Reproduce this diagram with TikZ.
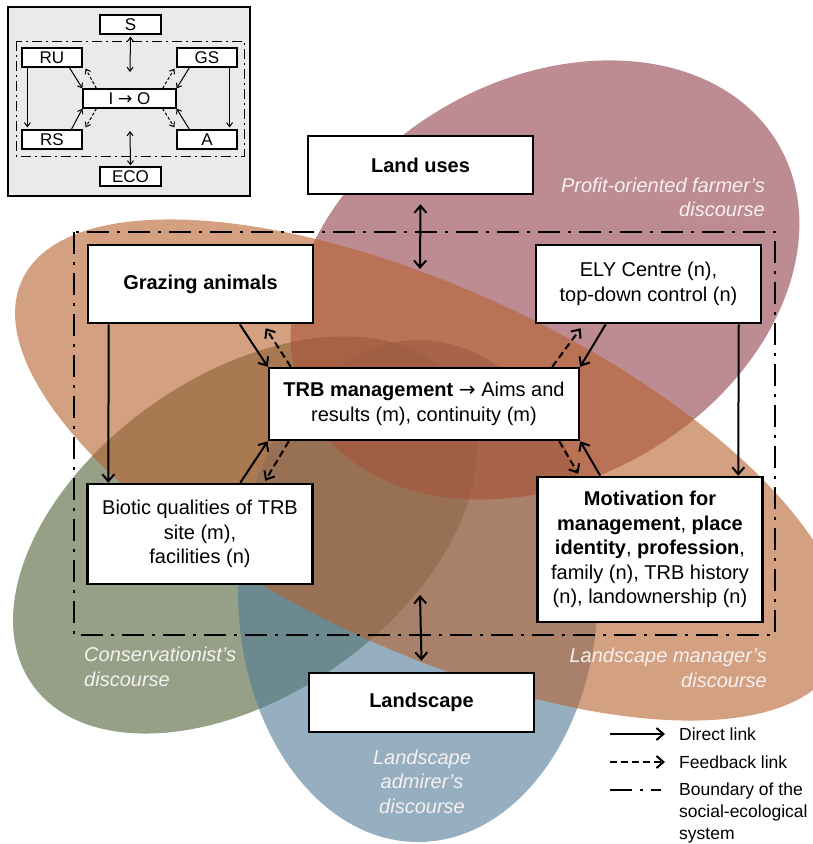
\documentclass[tikz,border=0pt]{standalone}
\usepackage{fontspec}
\setmainfont{Liberation Sans}
\newfontfamily\arrowfont{DejaVu Sans}
\usepackage{tikz}
\usetikzlibrary{calc}
\usetikzlibrary{arrows.meta}
\definecolor{profit}{RGB}{143,63,73}
\definecolor{manager}{RGB}{183,97,47}
\definecolor{conserv}{RGB}{80,97,55}
\definecolor{admirer}{RGB}{80,122,150}
\definecolor{insetgray}{RGB}{234,234,234}
\definecolor{labelwhite}{RGB}{246,240,240}
\newcommand{\boxfont}{\fontsize{20}{24.5}\selectfont}
\newcommand{\legendfont}{\fontsize{17.5}{22}\selectfont}
\newcommand{\insetfont}{\fontsize{17}{20}\selectfont}
\newcommand{\thento}{{\arrowfont\char"2192}}
\newcommand{\blob}[5]{ \fill[#1, fill opacity=0.6, rotate around={#2:(#3)}] (#3) ellipse [x radius=#4pt, y radius=#5pt];}

\begin{document}
\begin{tikzpicture}[x=1pt, y=-1pt,
    box/.style={draw, line width=2.5pt, fill=white, align=center, inner sep=0pt, font=\boxfont, minimum width=225pt},
    direct/.style={line width=2pt, -{Straight Barb[length=7pt,width=12pt]}},
    feedback/.style={direct, dash pattern=on 7pt off 4pt},
    both/.style={line width=2pt, {Straight Barb[length=7pt,width=12pt]}-{Straight Barb[length=7pt,width=12pt]}},
    sysline/.style={line width=2.5pt, dash pattern=on 22pt off 8pt on 3pt off 8pt},
    discourse/.style={font=\boxfont\itshape, text=labelwhite, inner sep=0pt},
    legend/.style={font=\legendfont, inner sep=0pt},
    ibox/.style={draw, line width=1.2pt, fill=white, inner sep=0pt, font=\insetfont, minimum height=19pt},
    idirect/.style={line width=1pt, -{Straight Barb[length=4pt,width=6pt]}},
    ifeed/.style={idirect, dash pattern=on 3pt off 2pt},
    iboth/.style={line width=1pt, {Straight Barb[length=4pt,width=6pt]}-{Straight Barb[length=4pt,width=6pt]}},
    isys/.style={line width=1pt, dash pattern=on 10pt off 4pt on 2pt off 4pt}]
        \useasboundingbox (0,0) rectangle (812,844);
        % discourses
        \blob{conserv}{35}{245,535}{260}{160}
        \blob{admirer}{0}{418,591}{180}{251}
        \blob{profit}{30}{545,280}{270}{200}
        \blob{manager}{-25}{430,470}{450}{180}
        % boundary
        \draw[sysline] (74,232) rectangle (775,635);
        % boxes
        \node[box, minimum height=58pt] (landuse) at (420.5,165) {\textbf{Land uses}};
        \node[box, minimum height=78pt] (graz) at (200.5,284) {\textbf{Grazing animals}};
        \node[box, minimum height=78pt] (ely) at (648.5,284) {ELY Centre (n),\\top-down control (n)};
        \node[box, minimum width=310pt, minimum height=72pt] (trb) at (424,404) {\textbf{TRB management} \thento{} Aims and\\results (m), continuity (m)};
        \node[box, minimum height=100pt] (biotic) at (200,534) {Biotic qualities of TRB\\site (m),\\facilities (n)};
        \node[box, minimum height=145pt] (motiv) at (650,549.5) {\textbf{Motivation for}\\\textbf{management}, \textbf{place}\\\textbf{identity}, \textbf{profession},\\family (n), TRB history\\(n), landownership (n)};
        \node[box, minimum height=59pt] (landscape) at (421.5,702.5) {\textbf{Landscape}};
        % links
        \coordinate (systop) at (420,269);
        \coordinate (sysbot) at (420,595);
        \draw[both] ($(landuse.south)+(0,9)$) -- (systop);
        \draw[both] (sysbot) -- ($(landscape.north)+(0,-11)$);
        \draw[direct] ($(graz.south west)+(22,0)$) -- ($(biotic.north west)+(22,0)$);
        \draw[direct] ($(ely.south west)+(204,0)$) -- ($(motiv.north west)+(202,0)$);
        \draw[direct] ($(graz.south west)+(153,0)$) -- (trb.north west);
        \draw[feedback] ($(trb.north west)+(23,0)$) -- ($(graz.south west)+(179,4)$);
        \draw[direct] ($(biotic.north west)+(154,0)$) -- (trb.south west);
        \draw[feedback] ($(trb.south west)+(21,0)$) -- ($(biotic.north west)+(179,-2)$);
        \draw[direct] ($(ely.south west)+(71,0)$) -- (trb.north east);
        \draw[feedback] ($(trb.north east)+(-28,0)$) -- ($(ely.south west)+(46,4)$);
        \draw[direct] ($(motiv.north west)+(64,0)$) -- (trb.south east);
        \draw[feedback] ($(trb.south east)+(-21,0)$) -- ($(motiv.north west)+(42,-2)$);
        % discourse labels
        \node[discourse, anchor=north east, align=right] (profitlbl) at (765,177.5) {Profit-oriented farmer's\\discourse};
        \node[discourse, anchor=north west, align=left] (conservlbl) at (84,647) {Conservationist's\\discourse};
        \node[discourse, anchor=north east, align=right] (managerlbl) at (767,648) {Landscape manager's\\discourse};
        \node[discourse, anchor=north, align=center] (admirerlbl) at (422,749.5) {Landscape\\admirer's\\discourse};
        % legend
        \node[legend, anchor=west] (legdirect) at (679,734) {Direct link};
        \node[legend, anchor=west] (legfeed) at (679,762) {Feedback link};
        \node[legend, anchor=north west, align=left] (legsys) at (679,783) {Boundary of the\\social-ecological\\system};
        \draw[direct] ($(legdirect.west)+(-69,0)$) -- ($(legdirect.west)+(-14,0)$);
        \draw[feedback] ($(legfeed.west)+(-69,0)$) -- ($(legfeed.west)+(-14,0)$);
        \draw[sysline] ($(legsys.north west)+(-69,7)$) -- ($(legsys.north west)+(-18,7)$);
        % inset
        \draw[fill=insetgray, line width=1.5pt] (8,7) rectangle (250,196);
        \draw[isys] (16,41) rectangle (244,156);
        \node[ibox, minimum width=61pt] (s) at (130.5,24.5) {S};
        \node[ibox, minimum width=60pt] (ru) at (52,57.5) {RU};
        \node[ibox, minimum width=60pt] (gs) at (207,57.5) {GS};
        \node[ibox, minimum width=93pt] (io) at (129.5,98.5) {I \thento{} O};
        \node[ibox, minimum width=60pt] (rs) at (52,139.5) {RS};
        \node[ibox, minimum width=60pt] (a) at (207,139.5) {A};
        \node[ibox, minimum width=61pt] (eco) at (130.5,176.5) {ECO};
        \coordinate (itop) at (130,72);
        \coordinate (ibot) at (130,131);
        \draw[iboth] ($(s.south)+(0,2)$) -- (itop);
        \draw[iboth] (ibot) -- ($(eco.north)+(0,-1)$);
        \draw[idirect] ($(ru.south west)+(6,0)$) -- ($(rs.north west)+(6,-2)$);
        \draw[idirect] ($(gs.south east)+(-8,0)$) -- ($(a.north east)+(-8,-2)$);
        \draw[idirect] ($(ru.south west)+(48,0)$) -- (io.north west);
        \draw[ifeed] ($(io.north west)+(14,0)$) -- ($(ru.south east)+(3,1)$);
        \draw[idirect] ($(rs.north west)+(50,0)$) -- (io.south west);
        \draw[ifeed] ($(io.south west)+(14,0)$) -- ($(rs.north east)+(3,-2)$);
        \draw[idirect] ($(gs.south west)+(13,0)$) -- (io.north east);
        \draw[ifeed] ($(io.north east)+(-14,0)$) -- ($(gs.south west)+(-2,1)$);
        \draw[idirect] ($(a.north west)+(13,0)$) -- (io.south east);
        \draw[ifeed] ($(io.south east)+(-14,0)$) -- ($(a.north west)+(-2,-2)$);
    \end{tikzpicture}
\end{document}
